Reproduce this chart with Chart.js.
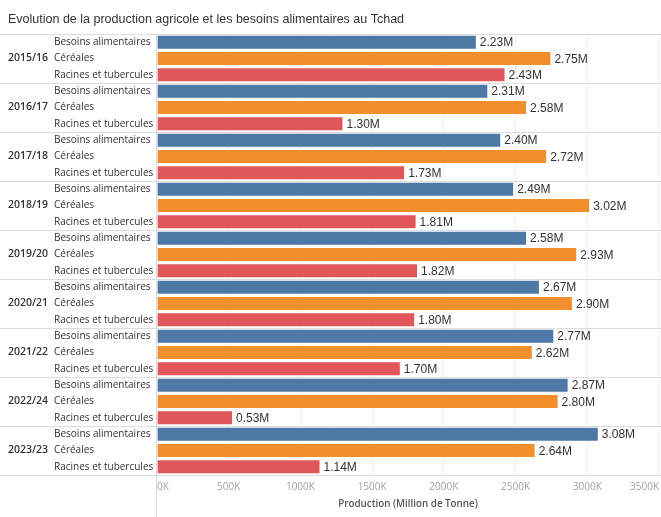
<!DOCTYPE html>
<html>
<head>
<meta charset="utf-8">
<script src="https://cdn.jsdelivr.net/npm/chart.js@4"></script>
<style>
  html, body { margin: 0; padding: 0; background: #fff; }
  #wrap { width: 661px; height: 517px; position: relative; }
</style>
</head>
<body>
<div id="wrap"><canvas id="myChart"></canvas></div>
<script>
const years = ['2015/16', '2016/17', '2017/18', '2018/19', '2019/20', '2020/21', '2021/22', '2022/24', '2023/23'];
const groups = ['Besoins alimentaires', 'Céréales', 'Racines et tubercules'];
// en milliers de tonnes
const besoins = [2230, 2310, 2400, 2490, 2580, 2670, 2770, 2870, 3080];
const cereales = [2750, 2580, 2720, 3020, 2930, 2900, 2620, 2800, 2640];
const racines = [2430, 1300, 1730, 1810, 1820, 1800, 1700, 530, 1140];
const xTicks = [0, 500, 1000, 1500, 2000, 2500, 3000, 3500];

const colors = ['#4e79a7', '#f28e2b', '#e15759'];
const textFont = '"Open Sans", sans-serif';

// build the 27 rows
let rowLabels = [], yearLabels = [], values = [], barColors = [];
years.forEach((yr, i) => {
    [besoins, cereales, racines].forEach((serie, j) => {
        rowLabels.push(groups[j]);
        yearLabels.push(j === 1 ? yr : '');
        values.push(serie[i]);
        barColors.push(colors[j]);
    });
});

// separator lines + axis line
const linesPlugin = {
    id: 'lines',
    beforeDatasetsDraw(chart) {
        const c = chart.ctx;
        const y = chart.scales.y;
        const x = chart.scales.x;
        c.save();
        c.strokeStyle = '#dcdcdc';
        c.lineWidth = 1;
        for (let g = 0; g <= years.length; g++) {
            let py;
            if (g === 0) py = chart.chartArea.top;
            else if (g === years.length) py = chart.chartArea.bottom;
            else py = (y.getPixelForValue(g * 3 - 1) + y.getPixelForValue(g * 3)) / 2;
            py = Math.round(py) + 0.5;
            c.beginPath();
            c.moveTo(0, py);
            c.lineTo(chart.width, py);
            c.stroke();
        }
        const px = Math.round(x.getPixelForValue(0)) - 0.5;
        c.beginPath();
        c.moveTo(px, chart.chartArea.top);
        c.lineTo(px, chart.height);
        c.stroke();
        c.restore();
    }
};

// value labels at bar ends
const valueLabels = {
    id: 'valueLabels',
    afterDatasetsDraw(chart) {
        const c = chart.ctx;
        const meta = chart.getDatasetMeta(0);
        c.save();
        c.font = '12px "Liberation Sans", Arial, sans-serif';
        c.fillStyle = '#333';
        c.textAlign = 'left';
        c.textBaseline = 'middle';
        meta.data.forEach((bar, i) => {
            c.fillText((values[i] / 1000).toFixed(2) + 'M', bar.x + 3, bar.y + 1);
        });
        c.restore();
    }
};

new Chart(document.getElementById('myChart'), {
    type: 'bar',
    data: {
        labels: rowLabels,
        datasets: [{
            data: values,
            backgroundColor: barColors,
            borderColor: 'rgba(255,255,255,0.5)',
            borderWidth: 1,
            barPercentage: 0.92,
            categoryPercentage: 1
        }]
    },
    options: {
        indexAxis: 'y',
        responsive: true,
        maintainAspectRatio: false,
        animation: false,
        layout: { padding: { left: 8, right: 2, top: 0, bottom: 0 } },
        plugins: {
            legend: { display: false },
            tooltip: { enabled: false },
            title: {
                display: true,
                text: 'Evolution de la production agricole et les besoins alimentaires au Tchad',
                align: 'start',
                color: '#333',
                font: { family: '"Liberation Sans", Arial, sans-serif', size: 12.5, weight: 'normal' },
                padding: { top: 12, bottom: 7 }
            }
        },
        scales: {
            x: {
                min: 0,
                max: 3500,
                afterBuildTicks: (s) => { s.ticks = xTicks.map(v => ({ value: v })); },
                grid: { color: '#f0f0f0', drawTicks: true, tickLength: 4, tickColor: 'transparent' },
                border: { display: false },
                ticks: {
                    align: 'inner',
                    padding: 2,
                    color: '#a0a0a0',
                    font: { family: textFont, size: 10 },
                    callback: (v) => v + 'K'
                },
                title: {
                    display: true,
                    text: 'Production (Million de Tonne)',
                    color: '#555',
                    font: { family: textFont, size: 9.8, weight: '600' },
                    padding: { top: 4, bottom: 7 }
                },
                afterFit: (s) => { s.height = 42; }
            },
            y: {
                weight: 0,
                grid: { display: false, drawTicks: false },
                border: { display: false },
                ticks: {
                    autoSkip: false,
                    crossAlign: 'far',
                    padding: 4,
                    color: '#333',
                    font: { family: textFont, size: 10 }
                },
                afterFit: (s) => { s.width = 103; }
            },
            yYear: {
                type: 'category',
                position: 'left',
                weight: 1,
                offset: true,
                labels: yearLabels,
                grid: { display: false, drawTicks: false },
                border: { display: false },
                ticks: {
                    autoSkip: false,
                    crossAlign: 'far',
                    padding: 0,
                    color: '#333',
                    font: { family: textFont, size: 10.5, weight: '600' }
                },
                afterFit: (s) => { s.width = 46; }
            }
        }
    },
    plugins: [linesPlugin, valueLabels]
});
</script>
</body>
</html>
